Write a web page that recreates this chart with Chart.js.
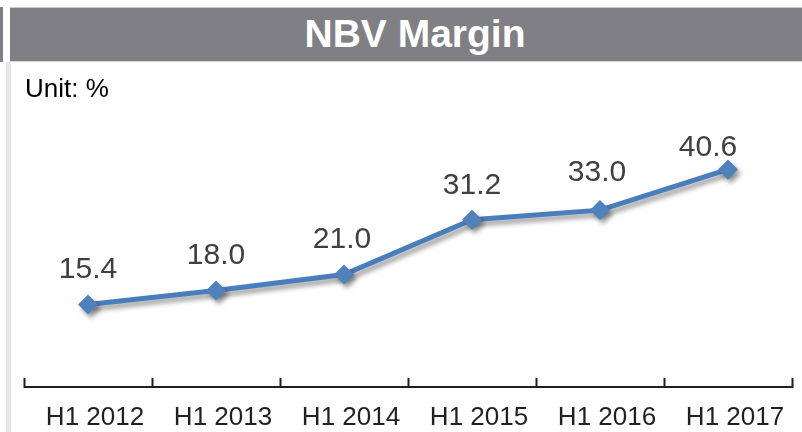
<!DOCTYPE html>
<html>
<head>
<meta charset="utf-8">
<script src="https://cdn.jsdelivr.net/npm/chart.js@4/dist/chart.umd.min.js"></script>
<style>
  html, body { margin: 0; padding: 0; background: #fff; }
  #wrap { position: relative; width: 802px; height: 432px; overflow: hidden; }
  #chart { position: absolute; left: 0; top: 0; }
  #leftCap { position: absolute; left: 0; top: 7px; width: 3px; height: 55px; background: #808084; }
  #leftRule { position: absolute; left: 6px; top: 62px; width: 5px; height: 370px; background: #e7e7ea; }
  #titleBar {
    position: absolute; left: 10px; top: 7px; right: 0; height: 55px;
    background: #808084; border-top: 1px solid #c9c9cc; border-bottom: 1px solid #d6d6d8;
    box-sizing: border-box; color: #fff; text-align: center;
    font: bold 39px "Liberation Sans", Arial, sans-serif; line-height: 52px;
    padding-left: 18px;
  }
  #unit {
    position: absolute; left: 25px; top: 73px;
    font: 26px "Liberation Sans", Arial, sans-serif; color: #000; line-height: 30px;
  }
</style>
</head>
<body>
<div id="wrap">
  <canvas id="chart" width="802" height="432"></canvas>
  <div id="leftCap"></div>
  <div id="leftRule"></div>
  <div id="titleBar">NBV Margin</div>
  <div id="unit">Unit: %</div>
</div>
<script>
var periods = ["H1 2012", "H1 2013", "H1 2014", "H1 2015", "H1 2016", "H1 2017"];
var nbvMargin = [15.4, 18.0, 21.0, 31.2, 33.0, 40.6];

// label nudges (px) so value labels sit like the original
var labelDx = [0, 0, -2, 0, -3, -20];
var labelDy = [37, 38, 37, 37, 40, 24];

var lineBlue = "#4a7dbb";
var markBlue = "#4f81bd";
var inkDark = "#231f20";

// soft drop shadow under the line and diamonds
var shadowPlugin = {
    id: "lineShadow",
    beforeDatasetDraw: function(chart) {
        var ctx = chart.ctx;
        ctx.save();
        ctx.shadowColor = "rgba(0,0,0,0.4)";
        ctx.shadowBlur = 5;
        ctx.shadowOffsetX = 3;
        ctx.shadowOffsetY = 4;
    },
    afterDatasetDraw: function(chart) {
        chart.ctx.restore();
    }
};

// axis line with upward ticks at category boundaries
var axisPlugin = {
    id: "axisTicks",
    afterDraw: function(chart) {
        var ctx = chart.ctx;
        var x = chart.scales.x;
        var area = chart.chartArea;
        var step = (x.right - x.left) / periods.length;
        ctx.save();
        ctx.strokeStyle = inkDark;
        ctx.lineWidth = 2;
        ctx.beginPath();
        ctx.moveTo(x.left, area.bottom);
        ctx.lineTo(x.right, area.bottom);
        for (var i = 0; i <= periods.length; i++) {
            var px = Math.round(x.left + i * step) + 0.5;
            ctx.moveTo(px, area.bottom + 1);
            ctx.lineTo(px, area.bottom - 9);
        }
        ctx.stroke();
        ctx.restore();
    }
};

// value labels above each point
var valuePlugin = {
    id: "valueLabels",
    afterDatasetsDraw: function(chart) {
        var ctx = chart.ctx;
        var meta = chart.getDatasetMeta(0);
        ctx.save();
        ctx.font = "30px 'Liberation Sans', Arial, sans-serif";
        ctx.fillStyle = "#404040";
        ctx.textAlign = "center";
        ctx.textBaseline = "alphabetic";
        meta.data.forEach(function(pt, i) {
            var cy = pt.y - labelDy[i];
            ctx.fillText(nbvMargin[i].toFixed(1), pt.x + labelDx[i], cy + 11);
        });
        ctx.restore();
    }
};

new Chart(document.getElementById("chart"), {
    type: "line",
    data: {
        labels: periods,
        datasets: [{
            data: nbvMargin,
            borderColor: lineBlue,
            borderWidth: 5,
            backgroundColor: markBlue,
            pointStyle: "rectRot",
            pointRadius: 10,
            pointBorderWidth: 0,
            pointBackgroundColor: markBlue,
            tension: 0
        }]
    },
    options: {
        responsive: false,
        animation: false,
        layout: { padding: { left: 24, right: 8, top: 119, bottom: 0 } },
        plugins: {
            legend: { display: false },
            title: { display: false },
            tooltip: { enabled: false }
        },
        scales: {
            x: {
                offset: true,
                grid: { display: false, drawTicks: false },
                border: { display: false },
                ticks: {
                    color: inkDark,
                    font: { family: "'Liberation Sans', Arial, sans-serif", size: 26 },
                    padding: 15,
                    labelOffset: 7,
                    maxRotation: 0,
                    autoSkip: false
                },
                afterFit: function(scale) { scale.height = 45; }
            },
            y: {
                display: false,
                min: 0,
                max: 50
            }
        }
    },
    plugins: [shadowPlugin, axisPlugin, valuePlugin]
});
</script>
</body>
</html>
